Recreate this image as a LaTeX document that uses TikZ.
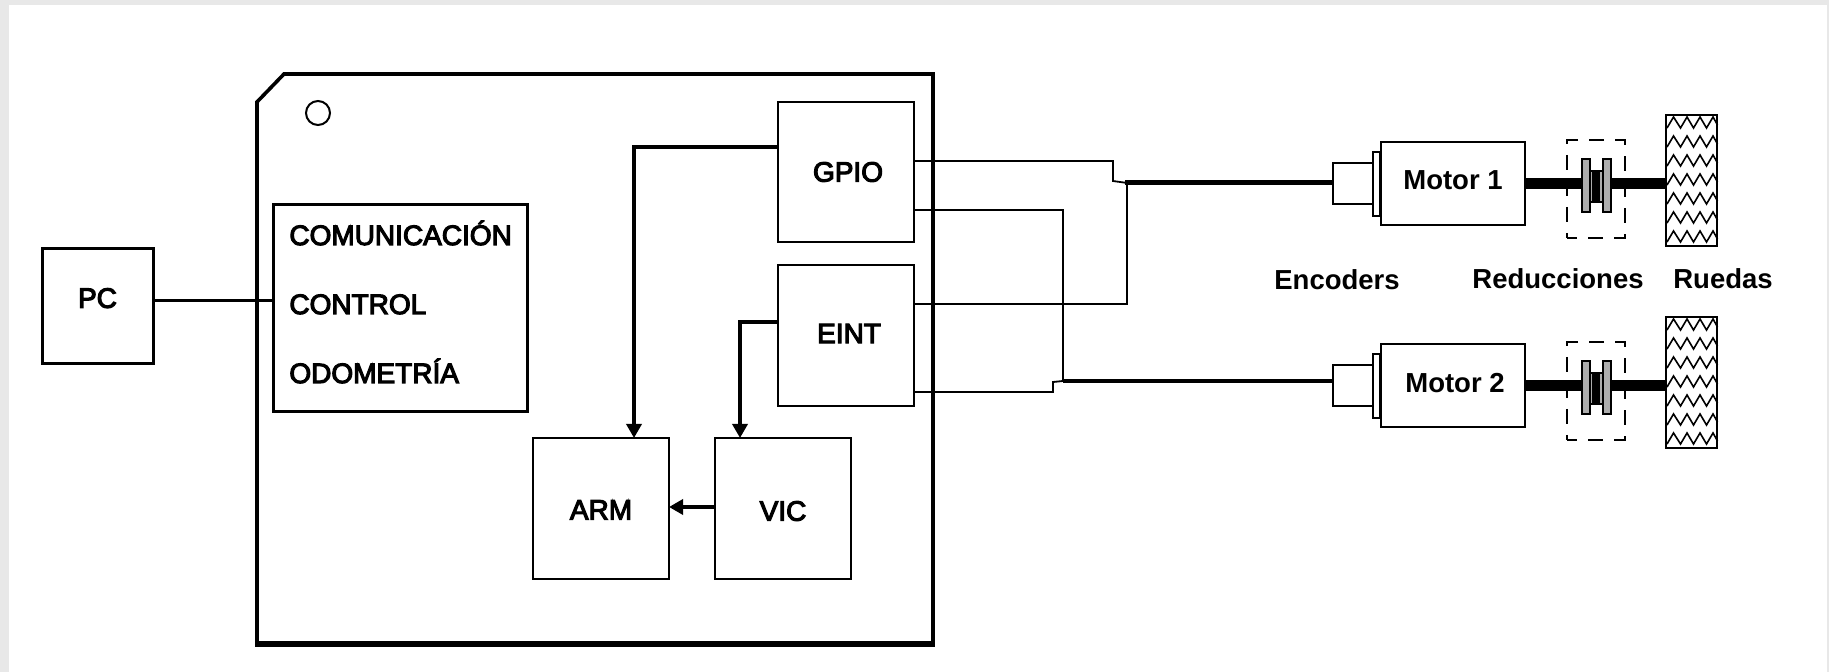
\documentclass[tikz,border=0pt]{standalone}
\usepackage{fontspec}
\setmainfont{Liberation Sans}
\newfontfamily\medfont[FakeBold=4]{Liberation Sans}
\usepackage{tikz}
\usetikzlibrary{arrows.meta}

\begin{document}
\begin{tikzpicture}[
    x=0.5pt, y=-0.5pt,
    box/.style={draw, line width=1pt, inner sep=0pt, outer sep=0pt, font=\fontsize{14}{16}\selectfont\medfont},
    heavybox/.style={box, line width=1.5pt},
    caption/.style={inner sep=0pt, anchor=base, font=\fontsize{13.75}{16}\selectfont\bfseries},
    rowtext/.style={inner sep=0pt, anchor=base west, font=\fontsize{14}{16}\selectfont\medfont},
    arr/.style={-{Triangle[length=7pt,width=7.5pt]}, line width=1.7pt},
    wire/.style={line width=0.9pt, line join=miter},
    bus/.style={line width=2.3pt},
    shaft/.style={line width=5.5pt},
    plate/.style={draw, line width=0.8pt, fill=black!32, inner sep=0pt, outer sep=0pt, minimum width=4pt, minimum height=26.5pt},
    hub/.style={draw, line width=0.8pt, fill=black!32, inner sep=0pt, outer sep=0pt, minimum width=6.5pt, minimum height=15.5pt},
    core/.style={fill=black, inner sep=0pt, outer sep=0pt, minimum width=4pt, minimum height=15.5pt},
    tread/.style={line width=0.8pt},
]
\useasboundingbox (0,0) rectangle (1829,672);
\fill[black!9] (0,0) rectangle (1829,672);
\fill[white] (9,5) rectangle (1827,672);

% Board
\draw[line width=1.8pt, line join=miter] (257,102) -- (284,74) -- (933,74) -- (933,644) -- (257,644) -- cycle;
\draw[line width=2.6pt] (255,644) -- (935,644);
\draw[line width=1pt] (318,113) circle (12);

% PC and tasks
\node[heavybox, minimum width=55.5pt, minimum height=57.5pt, text depth=8.5pt] (pc) at (97.5,306.5) {PC};
\node[heavybox, minimum width=127pt, minimum height=103.5pt] (comm) at (400,308.5) {};
\node[rowtext] (rowa) at (289,245) {COMUNICACIÓN};
\node[rowtext] (rowb) at (289,314) {CONTROL};
\node[rowtext] (rowc) at (289,383) {ODOMETRÍA};
\draw[line width=1.5pt] ([yshift=2.75pt]pc.east) -- ([yshift=2.75pt]pc.east -| comm.west);

% Peripherals
\node[box, minimum width=68pt, minimum height=70pt] (gpio) at (846,172) {\hspace{2pt}GPIO};
\node[box, minimum width=68pt, minimum height=70.5pt, text depth=2pt] (eint) at (846,335.5) {\hspace{3pt}EINT};
\node[box, minimum width=68pt, minimum height=70.5pt, text height=11pt] (arm) at (601,508.5) {ARM};
\node[box, minimum width=68pt, minimum height=70.5pt, text height=12.3pt] (vic) at (783,508.5) {VIC};
\draw[arr] ([yshift=12.5pt]gpio.west) -| ([xshift=16.5pt]arm.north);
\draw[arr] ([yshift=6.75pt]eint.west) -| ([xshift=-21.5pt]vic.north);
\draw[arr] ([yshift=0.75pt]vic.west) -- ([yshift=0.75pt]arm.east);

% Motor 1
\node[box, minimum width=20pt, minimum height=20.5pt] (enc1) at (1353,183.5) {};
\node[box, minimum width=3.5pt, minimum height=32pt] (flange1) at (1376.5,184) {};
\node[box, minimum width=72pt, minimum height=41.5pt, text depth=3.5pt, font=\fontsize{13.75}{16}\selectfont\bfseries] (mot1) at (1453,183.5) {Motor 1};
\node[box, minimum width=25.5pt, minimum height=65.5pt] (wheel1) at (1691.5,180.5) {};
\draw[shaft] (mot1.east) -- (mot1.east -| wheel1.west);
\node[draw, line width=0.9pt, dash pattern=on 7.5pt off 5.5pt, dash phase=2.5pt, inner sep=0pt, minimum width=29pt, minimum height=49pt] (red1) at (1596,189) {};
\node[hub] (hub1) at (1596.5,186.5) {};
\node[core] (core1) at (1595.5,186.5) {};
\node[plate] (plate1a) at (1586,185.5) {};
\node[plate] (plate1b) at (1607,185.5) {};

% Motor 2
\node[box, minimum width=20pt, minimum height=20.5pt] (enc2) at (1353,385.5) {};
\node[box, minimum width=3.5pt, minimum height=32pt] (flange2) at (1376.5,386) {};
\node[box, minimum width=72pt, minimum height=41.5pt, text depth=2.5pt, font=\fontsize{13.75}{16}\selectfont\bfseries] (mot2) at (1453,385.5) {\hspace{2pt}Motor 2};
\node[box, minimum width=25.5pt, minimum height=65.5pt] (wheel2) at (1691.5,382.5) {};
\draw[shaft] (mot2.east) -- (mot2.east -| wheel2.west);
\node[draw, line width=0.9pt, dash pattern=on 7.5pt off 5.5pt, dash phase=2.5pt, inner sep=0pt, minimum width=29pt, minimum height=49pt] (red2) at (1596,391) {};
\node[hub] (hub2) at (1596.5,388.5) {};
\node[core] (core2) at (1595.5,388.5) {};
\node[plate] (plate2a) at (1586,387.5) {};
\node[plate] (plate2b) at (1607,387.5) {};

% Wheel treads
\foreach \t in {115,317} {
  \foreach \k in {0,...,6} {
    \pgfmathsetmacro{\r}{\t+13+19*\k}
    \draw[tread] (1667,\r) -- ++(6.5,-11) -- ++(7,11) -- ++(6.5,-11) -- ++(6.5,11) -- ++(6.5,-11) -- ++(6.5,11) -- ++(6.5,-11) -- ++(4.5,8);
  }
}

% Wiring to encoders
\coordinate (joina) at (1125,182.7);
\coordinate (joinb) at (1063,381);
\draw[bus] (joina) -- (joina -| enc1.west);
\draw[bus] (joinb) -- (joinb -| enc2.west);
\draw[wire] ([yshift=5.5pt]gpio.east) -- ++(199,0) -- ++(0,20) -- (joina);
\draw[wire] ([yshift=15.75pt]eint.east) -- ++(213,0) -- (1127,182.7);
\draw[wire] ([yshift=-19pt]gpio.east) -- ++(149,0) -- (joinb);
\draw[wire] ([yshift=-28.25pt]eint.east) -- ++(139,0) -- ++(0,-10) -- (joinb);

% Captions
\node[caption] (capa) at (1337,290) {Encoders};
\node[caption] (capb) at (1558,289) {Reducciones};
\node[caption] (capc) at (1723,289) {Ruedas};
\end{tikzpicture}
\end{document}
